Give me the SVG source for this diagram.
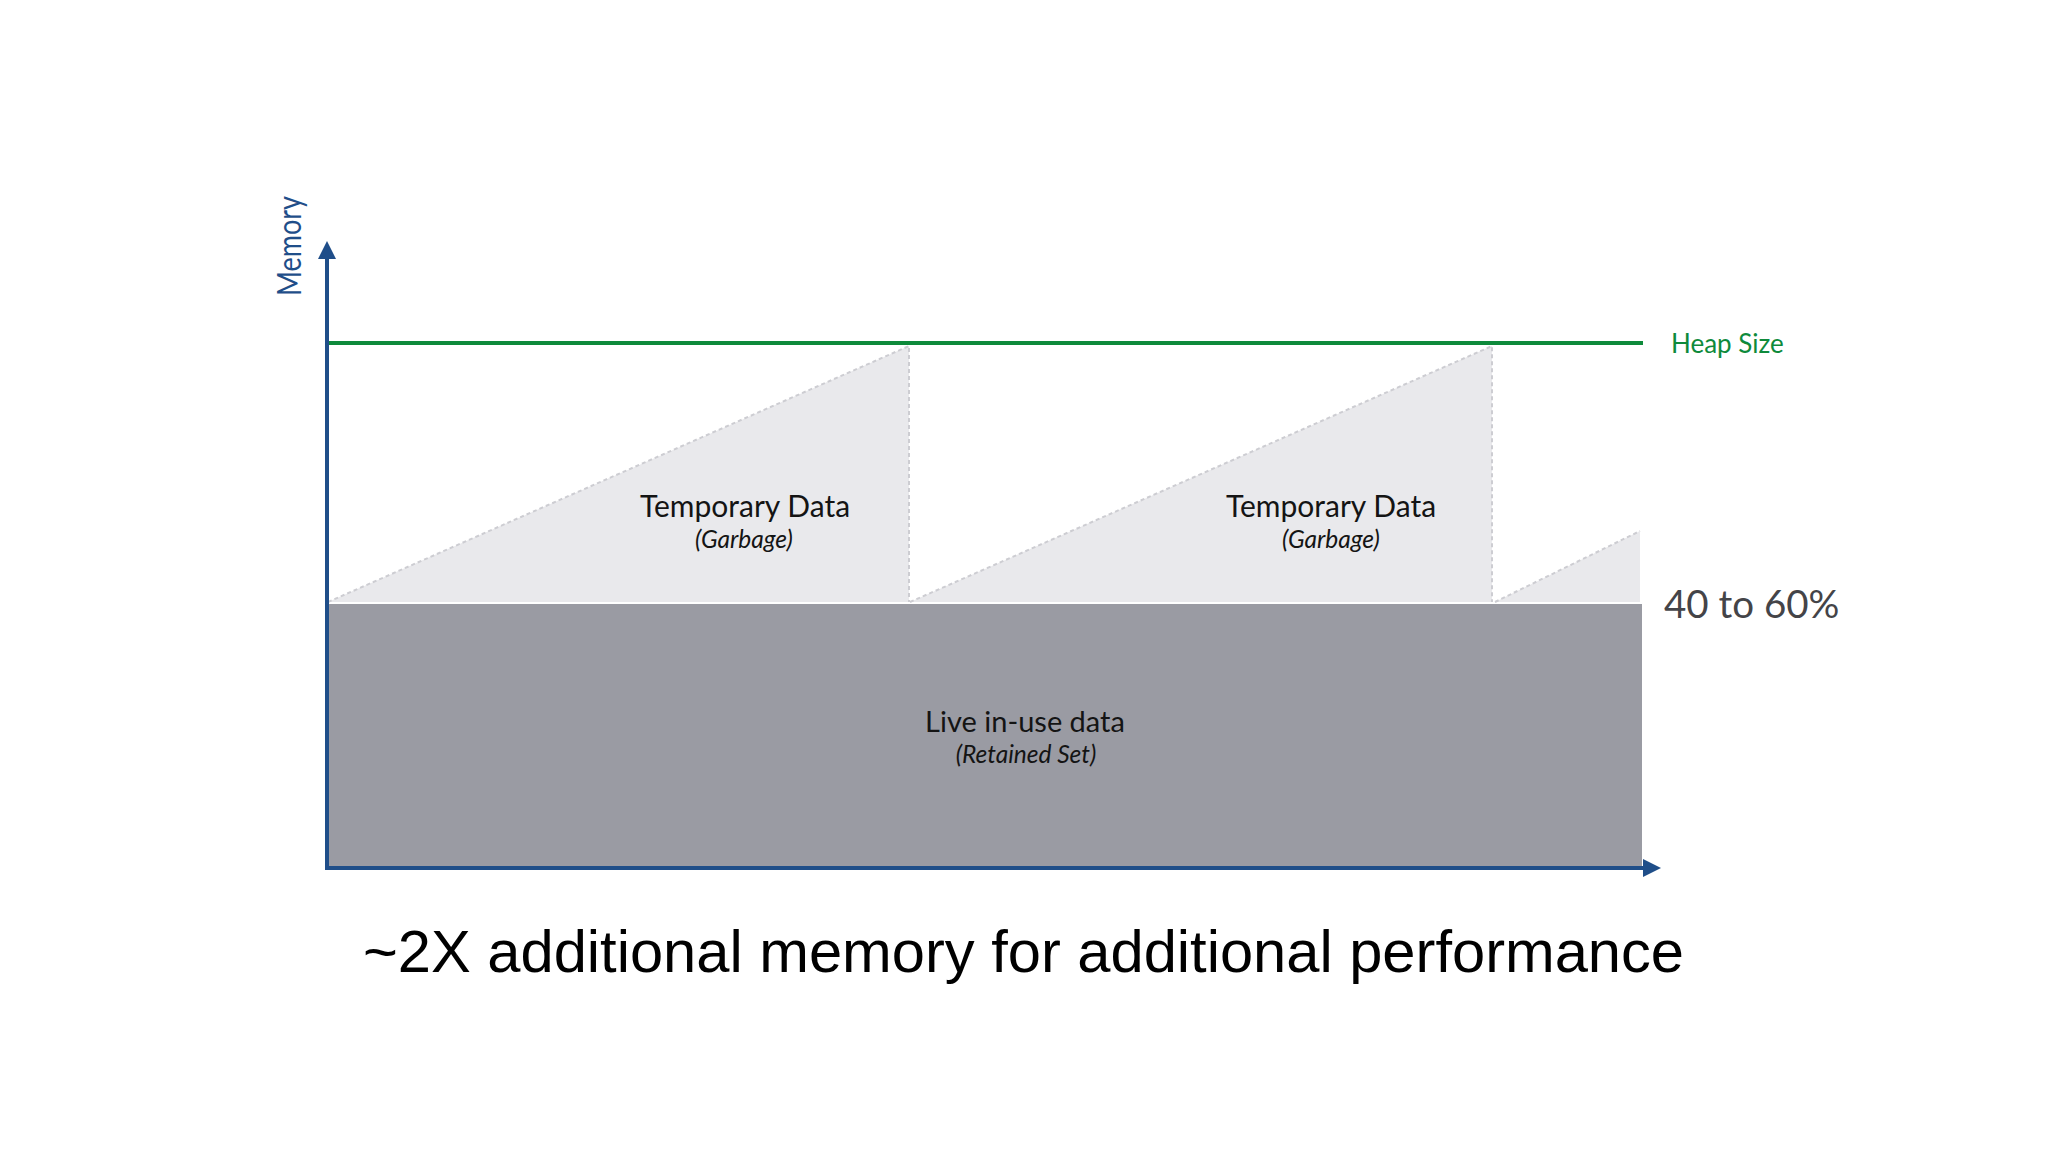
<svg xmlns="http://www.w3.org/2000/svg" width="2048" height="1152" viewBox="0 0 2048 1152">
  <style>
    .lbl { font-family: Lato, "Open Sans", "Liberation Sans", sans-serif; fill: #141414; text-anchor: middle; }
    .main { font-size: 29px; }
    .tmp { font-size: 30px; }
    .sub { font-size: 24.5px; font-style: italic; }
    .tri { fill: #E9E9EC; }
    .dash { stroke: #CDCDD2; stroke-width: 2; stroke-dasharray: 4 3; fill: none; }
    .axis { stroke: #1F4E89; stroke-width: 4; fill: none; }
  </style>
  <defs>
    <marker id="arrow" viewBox="0 0 18 18" refX="0" refY="9" markerWidth="18" markerHeight="18" markerUnits="userSpaceOnUse" orient="auto">
      <path d="M0,0 L18,9 L0,18 Z" fill="#1F4E89"/>
    </marker>
  </defs>
  <rect width="2048" height="1152" fill="#FFFFFF"/>

  <g id="live-data">
    <rect x="329" y="604" width="1313" height="262" fill="#9A9BA3"/>
    <text class="lbl main" x="1025" y="732">Live in-use data</text>
    <text class="lbl sub" x="1026" y="763">(Retained Set)</text>
  </g>

  <g id="temp-data-1">
    <polygon class="tri" points="328,602 909,346 909,602"/>
    <path class="dash" d="M328,602 L909,346 L909,602"/>
    <text class="lbl tmp" x="745" y="517">Temporary Data</text>
    <text class="lbl sub" x="744" y="548">(Garbage)</text>
  </g>

  <g id="temp-data-2">
    <polygon class="tri" points="910,602 1492,346 1492,602"/>
    <path class="dash" d="M910,602 L1492,346 L1492,602"/>
    <text class="lbl tmp" x="1331" y="517">Temporary Data</text>
    <text class="lbl sub" x="1331" y="548">(Garbage)</text>
  </g>

  <g id="temp-data-3">
    <polygon class="tri" points="1495,602 1640,531 1640,602"/>
    <path class="dash" d="M1495,602 L1640,531"/>
  </g>

  <g id="connectors">
    <line class="axis" x1="327" y1="868" x2="327" y2="259" marker-end="url(#arrow)"/>
    <line class="axis" x1="325" y1="868" x2="1643" y2="868" marker-end="url(#arrow)"/>
    <line x1="329" y1="343" x2="1643" y2="343" stroke="#0E8A3B" stroke-width="4"/>
  </g>

  <g id="memory-label">
    <text transform="translate(301,246) rotate(-90)" x="0" y="0" text-anchor="middle" font-family="Lato, 'Open Sans', 'Liberation Sans', sans-serif" font-size="33" fill="#1F4E89" textLength="100" lengthAdjust="spacingAndGlyphs">Memory</text>
  </g>

  <g id="heap-size-label">
    <text x="1671" y="353" font-family="Lato, 'Open Sans', 'Liberation Sans', sans-serif" font-size="26" fill="#0E8A3B">Heap Size</text>
  </g>

  <g id="percent-label">
    <text x="1664" y="618" font-family="Lato, 'Open Sans', 'Liberation Sans', sans-serif" font-size="38.5" fill="#444448">40 to 60%</text>
  </g>

  <g id="caption">
    <text x="363" y="972" font-family="'Liberation Sans', Arial, sans-serif" font-size="60" fill="#000000" textLength="1321" lengthAdjust="spacingAndGlyphs">~2X additional memory for additional performance</text>
  </g>
</svg>
